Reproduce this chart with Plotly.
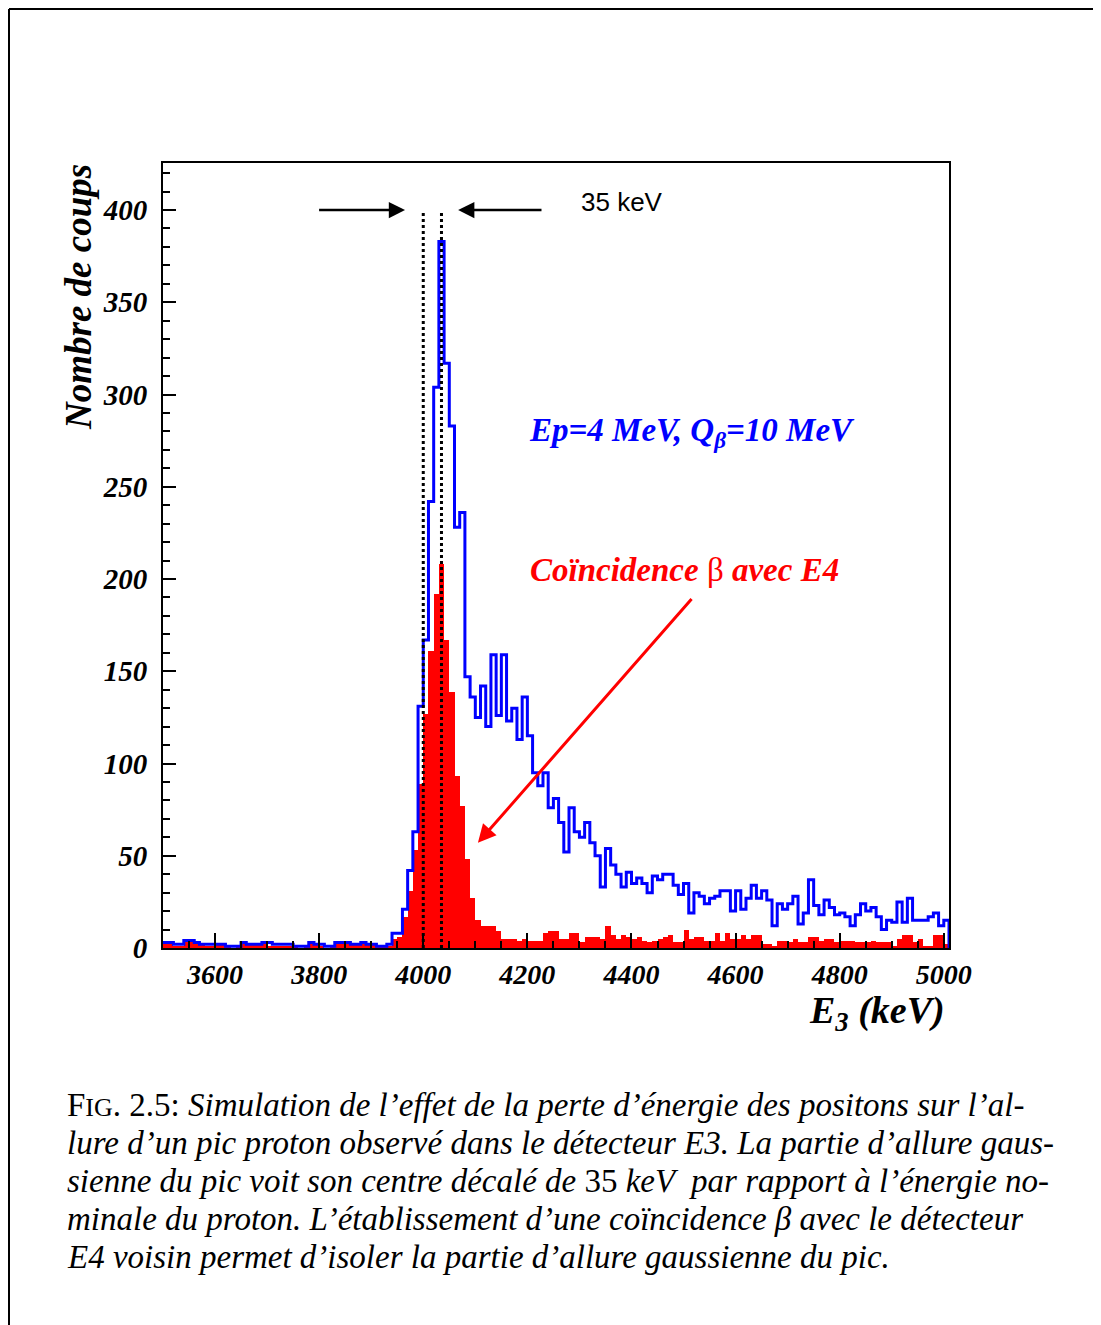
import plotly.graph_objects as go

# histogram binning (keV)
bin_start = 3500
bin_width = 10

# E3 spectrum, all events (blue outline)
blue_counts = [
    3, 3, 2, 2, 4, 4, 3, 2, 2, 2,
    2, 2, 1, 1, 1, 3, 2, 2, 2, 3,
    3, 2, 2, 2, 2, 1, 1, 1, 3, 2,
    2, 1, 1, 3, 3, 3, 2, 2, 3, 2,
    2, 1, 1, 2, 8, 8, 21, 42, 63, 131,
    167, 242, 304, 383, 317, 283, 228, 236, 147, 136,
    125, 142, 120, 159, 126, 159, 123, 130, 113, 136,
    115, 95, 88, 95, 76, 81, 68, 52, 76, 63,
    60, 68, 57, 50, 33, 54, 45, 40, 33, 41,
    35, 38, 35, 30, 39, 37, 40, 40, 34, 29,
    35, 19, 30, 28, 24, 27, 28, 31, 31, 20,
    31, 21, 27, 34, 27, 31, 26, 12, 24, 21,
    24, 28, 13, 19, 37, 23, 18, 26, 22, 18,
    19, 17, 12, 18, 24, 20, 22, 17, 10, 15,
    14, 25, 14, 27, 15, 15, 15, 17, 19, 12,
    15,
]

# coincidence with E4 (red filled)
red_counts = [
    3, 3, 1, 1, 4, 4, 2, 2, 1, 1,
    2, 2, 1, 0, 1, 2, 2, 2, 2, 2,
    1, 1, 1, 1, 1, 1, 0, 1, 2, 2,
    1, 0, 1, 3, 3, 2, 2, 2, 2, 2,
    2, 1, 1, 1, 5, 6, 17, 31, 53, 89,
    127, 161, 192, 208, 167, 139, 93, 77, 48, 27,
    15, 12, 12, 12, 9, 5, 5, 5, 4, 5,
    4, 4, 4, 8, 9, 9, 5, 5, 8, 8,
    3, 6, 6, 6, 5, 12, 7, 5, 7, 6,
    5, 6, 4, 3, 4, 5, 6, 7, 3, 3,
    10, 5, 6, 6, 4, 4, 8, 4, 8, 5,
    5, 7, 5, 7, 7, 2, 2, 1, 4, 4,
    3, 5, 3, 3, 6, 6, 4, 5, 5, 3,
    4, 4, 4, 3, 3, 3, 4, 3, 3, 3,
    1, 5, 7, 7, 3, 5, 1, 1, 7, 7,
    2,
]

x_range = [3500, 5010]
y_range = [0, 425.5]
x_ticks = [3600, 3800, 4000, 4200, 4400, 4600, 4800, 5000]
y_ticks = [0, 50, 100, 150, 200, 250, 300, 350, 400]
peak_lines = [4000, 4035]

n = len(blue_counts)
edges = [bin_start + bin_width * i for i in range(n + 1)]
centers = [bin_start + bin_width * (i + 0.5) for i in range(n)]

# page geometry, screen pixels (the page body has an 8px margin)
OFF = 8
SW, SH = 1101, 1325
W, H = SW - OFF, SH - OFF
L, R, T, B = 163, 949, 163, 948


def px(x):
    return (x - L) / (R - L)


def py(y):
    return (B - y) / (B - T)


SERIF = "Liberation Serif"
bi = dict(family=SERIF, style="italic", weight="bold")

fig = go.Figure()

# blue outline (step)
fig.add_trace(go.Scatter(
    x=edges + [edges[-1]],
    y=blue_counts + [blue_counts[-1], 0],
    mode="lines",
    line=dict(color="#0000ff", width=3, shape="hv"),
    hoverinfo="skip",
    showlegend=False,
))

# red filled coincidence histogram
fig.add_trace(go.Bar(
    x=centers,
    y=red_counts,
    width=bin_width,
    marker=dict(color="#ff0000", line=dict(width=0)),
    hoverinfo="skip",
    showlegend=False,
))

# dotted lines marking the 35 keV shift
for e in peak_lines:
    fig.add_shape(type="line", xref="x", yref="y", x0=e, x1=e, y0=0, y1=400,
                  line=dict(color="black", width=3, dash="dot"), layer="above")

# page border (top and left)
fig.add_shape(type="line", xref="paper", yref="paper",
              x0=px(9), x1=px(SW + 5), y0=py(9), y1=py(9),
              line=dict(color="black", width=2))
fig.add_shape(type="line", xref="paper", yref="paper",
              x0=px(9), x1=px(9), y0=py(9), y1=py(SH + 5),
              line=dict(color="black", width=2))

ann = []
# 35 keV arrows
ann.append(dict(x=3965, y=400, ax=3797, ay=400, xref="x", yref="y", axref="x", ayref="y",
                text="", showarrow=True, arrowhead=2, arrowsize=1.3, arrowwidth=2.5,
                arrowcolor="black"))
ann.append(dict(x=4067, y=400, ax=4230, ay=400, xref="x", yref="y", axref="x", ayref="y",
                text="", showarrow=True, arrowhead=2, arrowsize=1.3, arrowwidth=2.5,
                arrowcolor="black"))


def label(x, y, text, font, **kw):
    d = dict(x=px(x), y=py(y), xref="paper", yref="paper", text=text,
             showarrow=False, xanchor="center", yanchor="middle", font=font)
    d.update(kw)
    ann.append(d)


label(622, 202, "35 keV", dict(family="Liberation Sans", size=26, color="black"))

# legends in the plot
label(692, 432, "Ep=4 MeV, Q<sub>β</sub>=10 MeV", dict(size=33, color="#0000ff", **bi))
label(684, 570,
      "Coïncidence <span style='font-weight:normal;font-style:normal'>β</span> avec E4",
      dict(size=33, color="#ff0000", **bi))
ann.append(dict(x=4105, y=57, ax=4518, ay=190, xref="x", yref="y", axref="x", ayref="y",
                text="", showarrow=True, arrowhead=2, arrowsize=1.2, arrowwidth=3,
                arrowcolor="#ff0000"))

# axis titles
label(78, 297, "Nombre de coups", dict(size=37, color="black", **bi), textangle=-90)
label(947, 1013, "E<sub>3</sub> (keV)", dict(size=38, color="black", **bi), xanchor="right")

# caption
caption = [
    "F<span style='font-size:26px'>IG</span>. 2.5: <i>Simulation de l’effet de la perte d’énergie des positons sur l’al-</i>",
    "<i>lure d’un pic proton observé dans le détecteur E3. La partie d’allure gaus-</i>",
    "<i>sienne du pic voit son centre décalé de </i>35 <i>keV  par rapport à l’énergie no-</i>",
    "<i>minale du proton. L’établissement d’une coïncidence β avec le détecteur</i>",
    "<i>E4 voisin permet d’isoler la partie d’allure gaussienne du pic.</i>",
]
cap_y = [1105, 1143, 1181, 1219, 1257]
for line, yy in zip(caption, cap_y):
    label(65, yy, line, dict(family=SERIF, size=33, color="black"), xanchor="left")

fig.update_layout(
    width=W, height=H,
    margin=dict(l=L - OFF, r=SW - R, t=T - OFF, b=SH - B, pad=0),
    paper_bgcolor="white", plot_bgcolor="white",
    bargap=0,
    showlegend=False,
    annotations=ann,
    xaxis=dict(
        range=x_range, tickmode="array", tickvals=x_ticks,
        ticks="inside", ticklen=15, tickwidth=1.5, tickcolor="black",
        minor=dict(dtick=50, tick0=3500, ticks="inside", ticklen=7, tickwidth=1.5, tickcolor="black"),
        showline=True, linecolor="black", linewidth=2, mirror=True,
        showgrid=False, zeroline=False,
        tickfont=dict(size=28, color="black", **bi),
    ),
    yaxis=dict(
        range=y_range, tickmode="array", tickvals=y_ticks,
        ticks="inside", ticklen=13, tickwidth=1.5, tickcolor="black",
        minor=dict(dtick=10, tick0=0, ticks="inside", ticklen=7, tickwidth=1.5, tickcolor="black"),
        showline=True, linecolor="black", linewidth=2, mirror=True,
        showgrid=False, zeroline=False,
        ticklabelstandoff=8,
        tickfont=dict(size=29, color="black", **bi),
    ),
)

fig.write_html("out.html")
